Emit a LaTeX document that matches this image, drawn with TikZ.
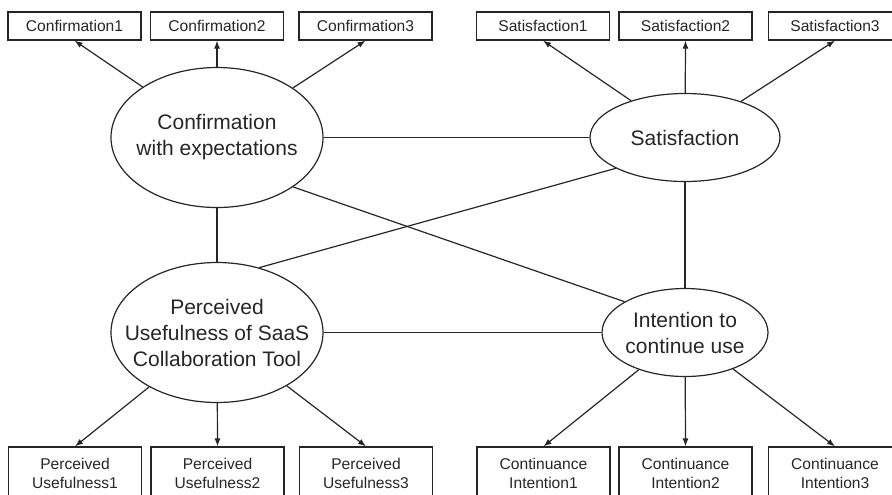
\documentclass[tikz,border=0pt]{standalone}
\usepackage{fontspec}
\setmainfont{Liberation Sans}
\usetikzlibrary{shapes.geometric, arrows.meta, positioning}

\begin{document}
\begin{tikzpicture}[
    x=0.5pt, y=-0.5pt,
    line width=0.6pt, color=black!85,
    item/.style={rectangle, draw, minimum width=66.5pt, minimum height=14pt, inner sep=0pt, font=\fontsize{7.8}{9.5}\selectfont},
    item2/.style={item, minimum height=26pt, align=center},
    latent/.style={ellipse, draw, inner sep=0pt},
    ltext/.style={align=center, font=\fontsize{10.5}{13}\selectfont},
    load/.style={-{Latex[length=4pt, width=3pt]}}
]
\useasboundingbox (0,0) rectangle (892,494);
\clip (0,0) rectangle (892,494);
% indicator boxes, top row
\node[item] (c1) at (74.5,26) {Confirmation1};
\node[item] (c2) at (217,26) {Confirmation2};
\node[item] (c3) at (365.5,26) {Confirmation3};
\node[item] (s1) at (543,26) {Satisfaction1};
\node[item] (s2) at (685.5,26) {Satisfaction2};
\node[item] (s3) at (835,26) {Satisfaction3};
% latent variables
\node[latent, minimum width=106pt, minimum height=70pt] (conf) at (217,137.5) {};
\node[ltext] (conft) at (conf) {Confirmation\\with expectations};
\node[latent, minimum width=95pt, minimum height=44pt] (sat) at (685,137.5) {};
\node[ltext] (satt) at (sat) {Satisfaction};
\node[latent, minimum width=106pt, minimum height=70pt] (pu) at (217,332.5) {};
\node[ltext] (put) at (pu) {Perceived\\Usefulness of SaaS\\Collaboration Tool};
\node[latent, minimum width=83pt, minimum height=44pt] (int) at (685,332.5) {};
\node[ltext] (intt) at (int) {Intention to\\continue use};
% indicator boxes, bottom row
\node[item2] (pu1) at (75,473) {Perceived\\Usefulness1};
\node[item2] (pu2) at (217.5,473) {Perceived\\Usefulness2};
\node[item2] (pu3) at (366,473) {Perceived\\Usefulness3};
\node[item2] (ci1) at (543.5,473) {Continuance\\Intention1};
\node[item2] (ci2) at (685.5,473) {Continuance\\Intention2};
\node[item2] (ci3) at (835,473) {Continuance\\Intention3};
% loadings
\foreach \i in {1,2,3} {
  \draw[load] (conf) -- (c\i.south);
  \draw[load] (sat) -- (s\i.south);
  \draw[load] (pu) -- (pu\i.north);
  \draw[load] (int) -- (ci\i.north);
}
% structural paths
\draw (conf) -- (sat);
\draw (conf) -- (pu);
\draw (sat) -- (int);
\draw (pu) -- (int);
\draw (conf.-33) -- (int.153);
\draw (pu.57) -- (sat.204);
\end{tikzpicture}
\end{document}
